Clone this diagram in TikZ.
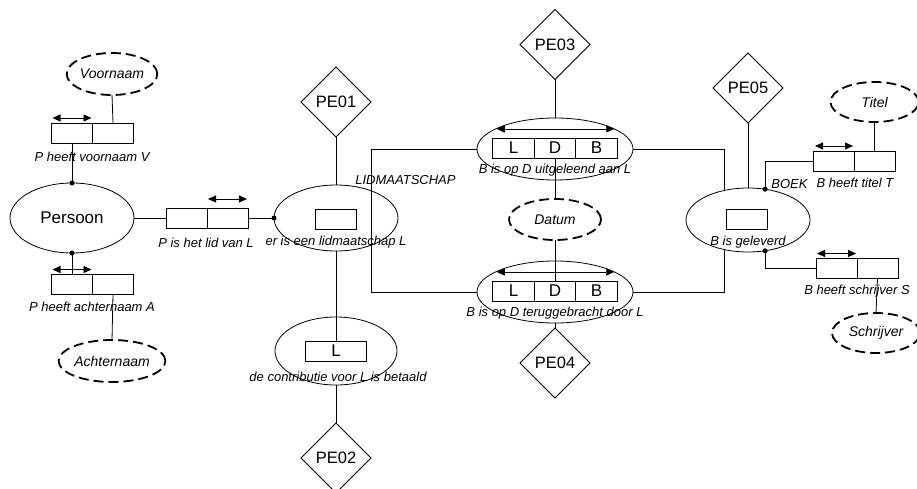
\documentclass[tikz,border=0pt]{standalone}
\usepackage{fontspec}
\setmainfont{Liberation Sans}
\usetikzlibrary{shapes.geometric,arrows.meta}

\begin{document}
\begin{tikzpicture}[x=1pt,y=-1pt,
  line width=0.8pt,
  cell/.style={draw, rectangle, minimum width=41pt, minimum height=20pt,
    inner sep=0pt, outer sep=0pt, font=\fontsize{17}{17}\selectfont},
  obj/.style={draw, ellipse, inner sep=0pt, outer sep=0pt},
  attr/.style={draw, ellipse, dash pattern=on 10pt off 5pt, line width=1.8pt,
    inner sep=0pt, outer sep=0pt, minimum width=90pt, minimum height=42pt,
    font=\fontsize{14}{14}\selectfont\itshape},
  cons/.style={draw, diamond, inner sep=0pt, outer sep=0pt,
    minimum width=70pt, minimum height=70pt, font=\fontsize{16.5}{16.5}\selectfont},
  lbl/.style={font=\fontsize{13}{13}\selectfont\itshape, inner sep=0pt},
  uniq/.style={{Triangle[length=8pt,width=7pt]}-{Triangle[length=8pt,width=7pt]}},
  dot/.style={circle, fill, inner sep=0pt, minimum size=5pt}]

\useasboundingbox (0,0) rectangle (917,489);

% ---------- Persoon and its attributes ----------
\node[obj, minimum width=124pt, minimum height=70pt,
  font=\fontsize{17}{17}\selectfont] (persoon) at (72,218) {Persoon};

\node[attr] (voornaam) at (112,74) {Voornaam};
\node[cell] (vn1) at (72,133) {};
\node[cell] (vn2) at (113,133) {};
\node[lbl] (vnl) at (92,157) {P heeft voornaam V};
\draw[uniq] ([xshift=1pt,yshift=5pt]vn1.north west) -- ([xshift=-1pt,yshift=5pt]vn1.north east);

\node[cell] (an1) at (72,284.5) {};
\node[cell] (an2) at (113,284.5) {};
\node[lbl] (anl) at (92,307) {P heeft achternaam A};
\node[attr] (achternaam) at (112,361) {Achternaam};
\draw[uniq] ([xshift=1pt,yshift=5pt]an1.north west) -- ([xshift=-1pt,yshift=5pt]an1.north east);

\draw (vn2.north) -- (voornaam.south);
\draw (persoon.north) -- (vn1.south);
\node[dot] at (persoon.north) {};
\draw (persoon.south) -- (an1.north);
\node[dot] at (persoon.south) {};
\draw (an2.south) -- (achternaam.north);

% ---------- Lidmaatschap ----------
\node[cell] (lid1) at (186.5,218) {};
\node[cell] (lid2) at (227.5,218) {};
\node[lbl] (lidl) at (206,243) {P is het lid van L};
\draw[uniq] ([xshift=1pt,yshift=9pt]lid2.north west) -- ([xshift=-1pt,yshift=9pt]lid2.north east);

\node[obj, minimum width=124pt, minimum height=66pt] (lidm) at (336,218) {};
\node[cell] (lbox) at (336,219) {};
\node[lbl] (lidml) at (336,242) {er is een lidmaatschap L};
\node[lbl, anchor=west] (lidmname) at (355,180) {LIDMAATSCHAP};

\draw (persoon.east) -- (lid1.west);
\draw (lid2.east) -- (lidm.west);
\node[dot] at (lidm.west) {};

\node[cons] (pe01) at (336,102) {PE01};
\draw (pe01.south) -- (lidm.north);

\node[obj, minimum width=122pt, minimum height=68pt] (contr) at (336,351) {};
\node[cell, minimum width=61pt] (cbox) at (336,351) {L};
\node[lbl] (contrl) at (338,377) {de contributie voor L is betaald};
\draw (lidm.south) -- (cbox.north);

\node[cons] (pe02) at (336,458) {PE02};
\draw (contr.south) -- (pe02.north);

% ---------- Uitlenen en terugbrengen ----------
\node[obj, minimum width=156pt, minimum height=62pt] (uit) at (555,149) {};
\node[cell, minimum width=41.5pt] (u1) at (513.5,148) {L};
\node[cell, minimum width=41.5pt] (u2) at (555,148) {D};
\node[cell, minimum width=41.5pt] (u3) at (596.5,148) {B};
\node[lbl] (uitl) at (555,170) {B is op D uitgeleend aan L};
\draw[uniq] ([xshift=4pt,yshift=9pt]u1.north west) -- ([xshift=-3pt,yshift=9pt]u3.north east);

\node[cons] (pe03) at (555,44.5) {PE03};
\draw (pe03.south) -- (uit.north);

\node[attr, minimum width=92pt, minimum height=41pt] (datum) at (555,219.5) {Datum};

\node[obj, minimum width=156pt, minimum height=62pt] (terug) at (555,292) {};
\node[cell, minimum width=41.5pt] (t1) at (513.5,291) {L};
\node[cell, minimum width=41.5pt] (t2) at (555,291) {D};
\node[cell, minimum width=41.5pt] (t3) at (596.5,291) {B};
\node[lbl] (terugl) at (555,313) {B is op D teruggebracht door L};
\draw[uniq] ([xshift=4pt,yshift=9pt]t1.north west) -- ([xshift=-3pt,yshift=9pt]t3.north east);

\draw (u2.south) -- (datum.north);
\draw (datum.south) -- (t2.north);

\node[cons] (pe04) at (555,363) {PE04};
\draw (terug.south) -- (pe04.north);

\draw (uit.west) -- ++(-106,0) |- (terug.west);

% ---------- Boek ----------
\node[obj, minimum width=124pt, minimum height=64pt] (boek) at (748,220) {};
\node[cell] (bbox) at (746.5,219) {};
\node[lbl] (boekl) at (748,242) {B is geleverd};
\node[lbl, anchor=west] (boekname) at (771,184) {BOEK};

\node[cons] (pe05) at (748,88) {PE05};
\draw (pe05.south) -- (boek.north);

\draw (uit.east) -| (boek.129);
\draw (terug.east) -| (boek.231);

\node[cell] (ti1) at (833.5,161) {};
\node[cell] (ti2) at (874.5,161) {};
\node[lbl] (til) at (855,183) {B heeft titel T};
\draw[uniq] ([xshift=2pt,yshift=5pt]ti1.north west) -- ([xshift=-1pt,yshift=5pt]ti1.north east);
\node[attr, minimum width=88pt, minimum height=40pt] (titel) at (874.5,102) {Titel};
\draw (ti2.north) -- (titel.south);
\draw (boek.61) |- (ti1.west);
\node[dot] at (boek.61) {};

\node[cell] (sc1) at (836.5,268.5) {};
\node[cell] (sc2) at (877.5,268.5) {};
\node[lbl] (scl) at (857,291) {B heeft schrijver S};
\draw[uniq] ([xshift=1pt,yshift=5pt]sc1.north west) -- ([xshift=-1pt,yshift=5pt]sc1.north east);
\node[attr, minimum width=88pt, minimum height=40pt] (schrijver) at (876,333) {Schrijver};
\draw (sc2.south) -- (schrijver.north);
\draw (boek.299) |- (sc1.west);
\node[dot] at (boek.299) {};

\end{tikzpicture}
\end{document}
